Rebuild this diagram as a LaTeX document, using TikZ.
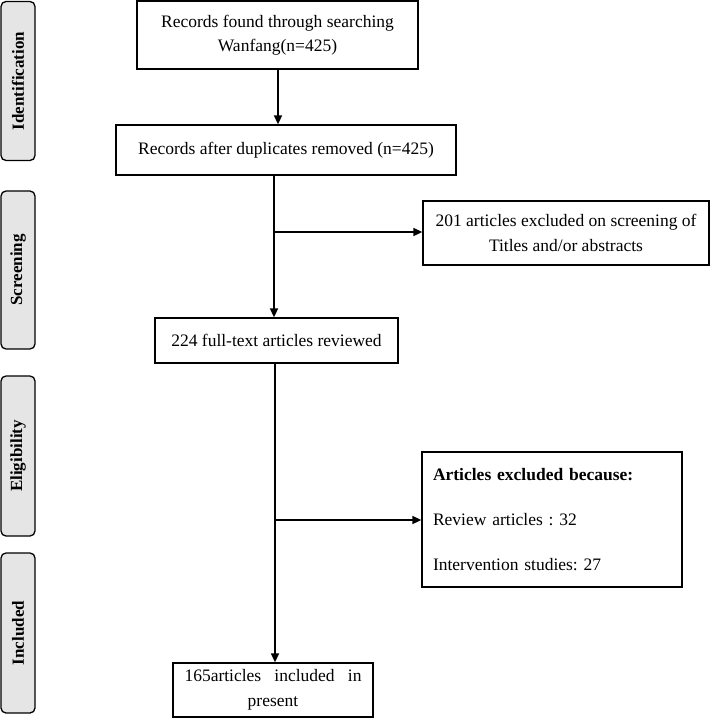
\documentclass[tikz,border=0pt]{standalone}
\usepackage{fontspec}
\setmainfont{Liberation Serif}
\usetikzlibrary{arrows.meta}
\frenchspacing
\begin{document}
\begin{tikzpicture}[x=1pt,y=-1pt,
  phase/.style={draw, line width=1.3pt, rounded corners=5pt, fill=gray!20,
    font=\fontsize{17}{19}\selectfont\bfseries, rotate=90, minimum height=34pt, inner sep=0pt},
  box/.style={draw, line width=1.3pt, fill=white, font=\fontsize{17.5}{24.5}\selectfont, align=center, inner sep=0pt},
  arr/.style={line width=1.6pt, -{Triangle[length=9pt,width=8pt]}},
  ln/.style={line width=1.6pt}]
\useasboundingbox (0,0) rectangle (710,727);
% phase bars
\node[phase, minimum width=159pt] (p1) at (18,81) {Identification};
\node[phase, minimum width=158pt] (p2) at (18,270) {Screening};
\node[phase, minimum width=160pt] (p3) at (18,456) {Eligibility};
\node[phase, minimum width=160pt] (p4) at (18,633) {Included};
% boxes
\node[box, minimum width=281pt, minimum height=68pt] (b1) at (277.5,35) {Records found through searching\\Wanfang(n=425)};
\node[box, minimum width=340pt, minimum height=50pt] (b2) at (286,150) {Records after duplicates removed (n=425)};
\node[box, minimum width=286pt, minimum height=64pt] (b4) at (566,233) {201 articles excluded on screening of\\Titles and/or abstracts};
\node[box, minimum width=243pt, minimum height=45pt] (b3) at (276.5,340.5) {224 full-text articles reviewed};
\node[box, minimum width=260pt, minimum height=135pt, text width=238pt, align=left,
  font=\fontsize{17.5}{45}\selectfont] (b5) at (552,519.5) {\textbf{Articles excluded because:}\\Review articles : 32\\Intervention studies: 27};
\node[box, minimum width=200pt, minimum height=54pt] (b6) at (273,690) {\makebox[177pt][s]{165articles included in}\\present};
% connectors
\coordinate (c1) at (274,232);
\coordinate (c2) at (275,520);
\draw[arr] (b1.south -| 278,0) -- (278,0 |- b2.north);
\draw[arr] (b2.south -| c1) -- (c1 |- b3.north);
\draw[arr] (c1) -- (c1 -| b4.west);
\draw[arr] (b3.south -| c2) -- (c2 |- b6.north);
\draw[arr] (c2) -- (c2 -| b5.west);
\end{tikzpicture}
\end{document}
